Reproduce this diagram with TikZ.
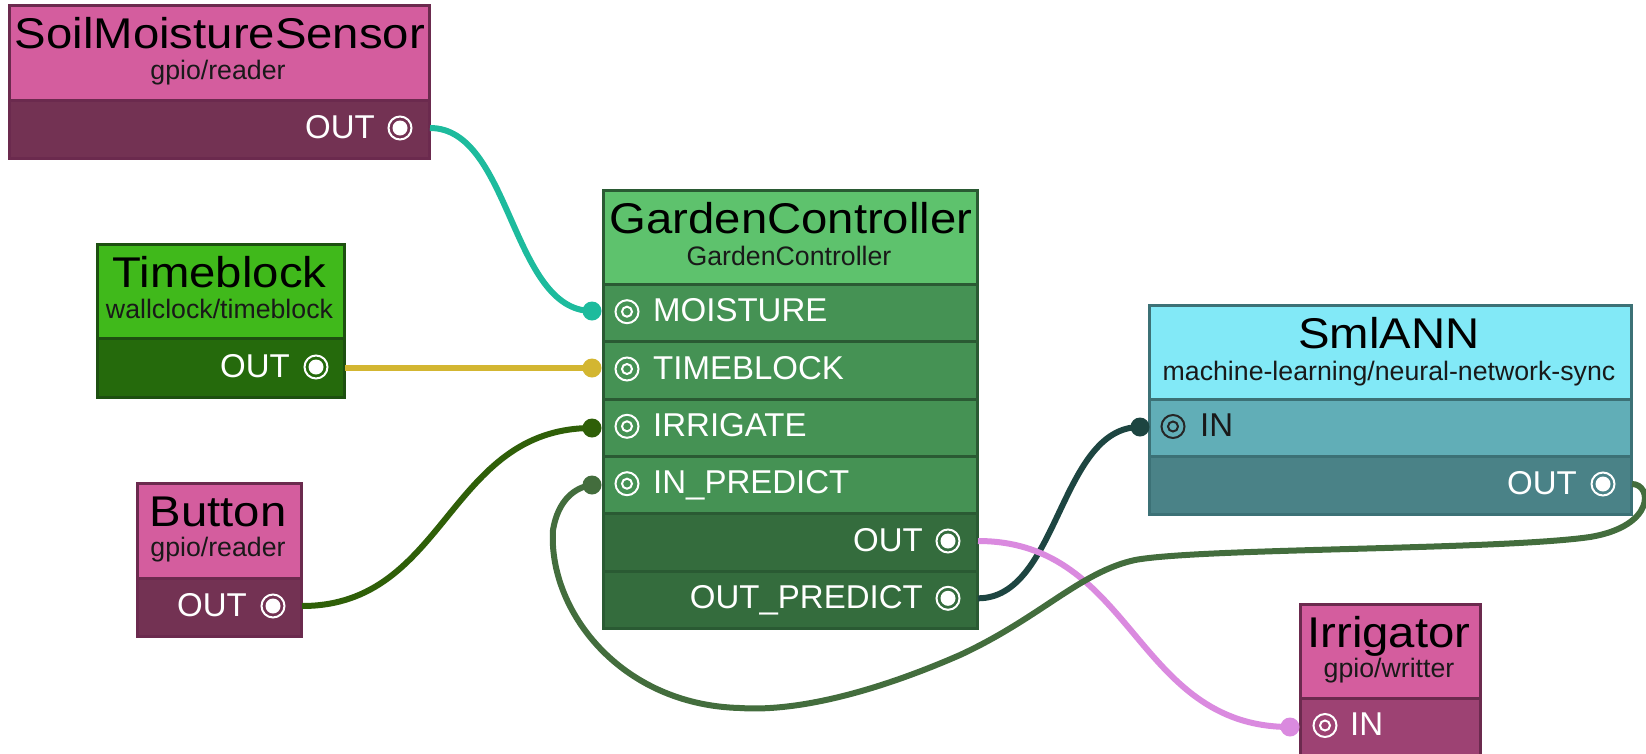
\documentclass[tikz,border=0pt]{standalone}
\usepackage{fontspec}
\setmainfont{Liberation Sans}
\newfontfamily\titlefont[FakeStretch=1.1]{Liberation Sans}
\definecolor{pinkH}{HTML}{D45D9E}
\definecolor{pinkB}{HTML}{6B2A4E}
\definecolor{pinkOut}{HTML}{733253}
\definecolor{pinkIn}{HTML}{9D4273}
\definecolor{tbH}{HTML}{40B91B}
\definecolor{tbOut}{HTML}{256A0C}
\definecolor{tbB}{HTML}{1D5010}
\definecolor{gcH}{HTML}{5EC26D}
\definecolor{gcIn}{HTML}{459254}
\definecolor{gcOut}{HTML}{346C3D}
\definecolor{gcB}{HTML}{2A5A33}
\definecolor{snH}{HTML}{82E9F7}
\definecolor{snIn}{HTML}{61AEB7}
\definecolor{snOut}{HTML}{4A8287}
\definecolor{snB}{HTML}{3C7176}
\definecolor{wTeal}{HTML}{1DBB9D}
\definecolor{wGold}{HTML}{D3B631}
\definecolor{wDkGreen}{HTML}{2F5F08}
\definecolor{wLoop}{HTML}{436D3D}
\definecolor{wSlate}{HTML}{1D4541}
\definecolor{wPink}{HTML}{DA8ADF}
\newcommand\portInIcon[2][white]{\draw[#1, line width=2pt] (#2) circle[radius=11.5pt] (#2) circle[radius=5pt];}
\newcommand\portOutIcon[1]{\draw[white, line width=2pt] (#1) circle[radius=11.5pt]; \fill[white] (#1) circle[radius=7.5pt];}
\begin{document}
\begin{tikzpicture}[x=1pt,y=-1pt,
  box/.style={rectangle, draw, line width=3pt, inner sep=0pt, anchor=north west},
  ttl/.style={font=\titlefont\fontsize{43}{48}\selectfont, anchor=base, inner sep=0pt, text=black},
  sub/.style={font=\fontsize{26.7}{30}\selectfont, anchor=base, inner sep=0pt, text=black!90},
  inl/.style={font=\fontsize{33}{38}\selectfont, anchor=base west, inner sep=0pt, text=white},
  outl/.style={font=\fontsize{33}{38}\selectfont, anchor=base east, inner sep=0pt, text=white},
  wire/.style={line width=6pt},
  pdot/.style={circle, inner sep=0pt, minimum size=19pt}]
\useasboundingbox (0,0) rectangle (1646,753);

% SoilMoistureSensor
\node[box, fill=pinkH, draw=pinkB, minimum width=420pt, minimum height=95pt] (soil) at (8,4) {};
\node[box, fill=pinkOut, draw=pinkB, minimum width=420pt, minimum height=58pt] (soilrow) at (8,99) {};
\node[ttl] (soilt) at (220,48) {SoilMoistureSensor};
\node[sub] (soils) at (218,79) {gpio/reader};
\node[outl] (soilout) at (375,138) {OUT};
\portOutIcon{400,128}
\coordinate (soilport) at (430,128);

% Timeblock
\node[box, fill=tbH, draw=tbB, minimum width=247pt, minimum height=94pt] (tb) at (96,243) {};
\node[box, fill=tbOut, draw=tbB, minimum width=247pt, minimum height=59pt] (tbrow) at (96,337) {};
\node[ttl] (tbt) at (219.5,287) {Timeblock};
\node[sub] (tbs) at (219.5,318) {wallclock/timeblock};
\node[outl] (tbout) at (290,377) {OUT};
\portOutIcon{316,367}
\coordinate (tbport) at (345,368);

% Button
\node[box, fill=pinkH, draw=pinkB, minimum width=164pt, minimum height=95pt] (btn) at (136,482) {};
\node[box, fill=pinkOut, draw=pinkB, minimum width=164pt, minimum height=58pt] (btnrow) at (136,577) {};
\node[ttl] (btnt) at (218,526) {Button};
\node[sub] (btns) at (218,556) {gpio/reader};
\node[outl] (btnout) at (247,616) {OUT};
\portOutIcon{273,606}
\coordinate (btnport) at (302,606);

% GardenController
\node[box, fill=gcH, draw=gcB, minimum width=374pt, minimum height=94pt] (gc) at (602,189) {};
\node[box, fill=gcIn, draw=gcB, minimum width=374pt, minimum height=57.3pt] (gcr1) at (602,283) {};
\node[box, fill=gcIn, draw=gcB, minimum width=374pt, minimum height=57.3pt] (gcr2) at (602,340.3) {};
\node[box, fill=gcIn, draw=gcB, minimum width=374pt, minimum height=57.3pt] (gcr3) at (602,397.7) {};
\node[box, fill=gcIn, draw=gcB, minimum width=374pt, minimum height=57.3pt] (gcr4) at (602,455) {};
\node[box, fill=gcOut, draw=gcB, minimum width=374pt, minimum height=57.3pt] (gcr5) at (602,512.3) {};
\node[box, fill=gcOut, draw=gcB, minimum width=374pt, minimum height=57.3pt] (gcr6) at (602,569.7) {};
\node[ttl] (gct) at (791,233) {GardenController};
\node[sub] (gcs) at (789,265) {GardenController};
\node[inl] (gcl1) at (653,321.7) {MOISTURE};
\node[inl] (gcl2) at (653,379) {TIMEBLOCK};
\node[inl] (gcl3) at (653,436.3) {IRRIGATE};
\node[inl] (gcl4) at (653,493.7) {IN\_PREDICT};
\node[outl] (gcl5) at (923,551) {OUT};
\node[outl] (gcl6) at (923,608.3) {OUT\_PREDICT};
\portInIcon{627,311.7}
\portInIcon{627,369}
\portInIcon{627,426.3}
\portInIcon{627,483.7}
\portOutIcon{948,541}
\portOutIcon{948,598.3}
\coordinate (gcout) at (978,541);
\coordinate (gcoutp) at (978,598.3);

% SmlANN
\node[box, fill=snH, draw=snB, minimum width=482pt, minimum height=94pt] (sn) at (1148,304) {};
\node[box, fill=snIn, draw=snB, minimum width=482pt, minimum height=57pt] (snr1) at (1148,398) {};
\node[box, fill=snOut, draw=snB, minimum width=482pt, minimum height=58pt] (snr2) at (1148,455) {};
\node[ttl] (snt) at (1389,348) {SmlANN};
\node[sub] (sns) at (1389,380) {machine-learning/neural-network-sync};
\node[inl, text=black!90] (snin) at (1200,436.5) {IN};
\portInIcon[black!85]{1173,426.5}
\node[outl] (snout) at (1577,494) {OUT};
\portOutIcon{1603,484}
\coordinate (snport) at (1632,484);

% Irrigator
\node[box, fill=pinkH, draw=pinkB, minimum width=180pt, minimum height=94pt] (irr) at (1299,603) {};
\node[box, fill=pinkIn, draw=pinkB, minimum width=180pt, minimum height=58pt] (irrrow) at (1299,697) {};
\node[ttl] (irrt) at (1389,647) {Irrigator};
\node[sub] (irrs) at (1389,677) {gpio/writter};
\node[inl] (irrin) at (1350,735.5) {IN};
\portInIcon{1325,725.5}

% input dots
\node[pdot, fill=wTeal] (dMoist) at (592,311) {};
\node[pdot, fill=wGold] (dTime) at (592,368) {};
\node[pdot, fill=wDkGreen] (dIrr) at (592,428) {};
\node[pdot, fill=wLoop] (dPred) at (592,485) {};
\node[pdot, fill=wSlate] (dSnIn) at (1140,427) {};
\node[pdot, fill=wPink] (dIrrIn) at (1290,727) {};

% wires
\draw[wire, wTeal] (soilport) .. controls +(81,0) and +(-81,0) .. (dMoist.center);
\draw[wire, wGold] (tbport) -- (dTime.center);
\draw[wire, wDkGreen] (btnport) .. controls +(145,0) and +(-145,0) .. (dIrr.center);
\draw[wire, wSlate] (gcoutp) .. controls +(81,0) and +(-81,0) .. (dSnIn.center);
\draw[wire, wPink] (gcout) .. controls +(156,0) and +(-156,0) .. (dIrrIn.center);
\draw[wire, wLoop] (snport) .. controls (1652,484) and (1656,526) .. (1590,537)
  .. controls (1500,550) and (1200,548) .. (1135,560)
  .. controls (1080,572) and (1040,618) .. (960,655)
  .. controls (880,690) and (800,712) .. (740,708)
  .. controls (620,705) and (548,610) .. (553,530)
  .. controls (558,500) and (575,487) .. (dPred.center);
\end{tikzpicture}
\end{document}
